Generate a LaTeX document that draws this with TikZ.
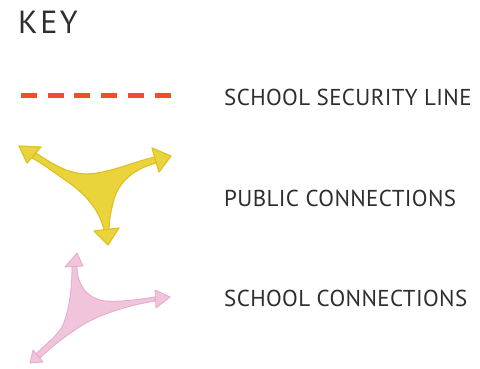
\documentclass[tikz,border=0pt]{standalone}
\usepackage{fontspec}
\setmainfont{PT Sans}
\definecolor{secred}{HTML}{F04E2B}
\definecolor{pubfill}{HTML}{EBD43B}
\definecolor{publine}{HTML}{DCC324}
\definecolor{schfill}{HTML}{F0C5DB}
\definecolor{schline}{HTML}{E6A8CB}
\definecolor{keytext}{HTML}{2E2E2E}
\begin{document}
\begin{tikzpicture}[x=1pt, y=-1pt,
  keylabel/.style={anchor=base west, inner sep=0pt, text=keytext,
    font=\fontsize{23}{23}\selectfont\addfontfeature{LetterSpace=1.6}},
  pubshape/.style={fill=pubfill, draw=publine, line width=1.2pt, line join=round},
  schshape/.style={fill=schfill, draw=schline, line width=0.8pt, line join=round}]
  \useasboundingbox (0,0) rectangle (480,369);
  \node[anchor=base west, inner sep=0pt, text=keytext,
    font=\fontsize{32}{32}\selectfont\addfontfeature{LetterSpace=8}] (key) at (18,34) {KEY};
  % school security line
  \draw[secred, line width=5pt, dash pattern=on 16pt off 10.7pt] (21,96) -- (171,96);
  \node[keylabel] (security) at (224,106) {SCHOOL SECURITY LINE};
  % public connections
  \path[pubshape] (36,153) .. controls (55,166) and (70,174) .. (87,174)
    .. controls (110,173) and (130,163) .. (155,157) -- (156,163)
    .. controls (130,170) and (117,185) .. (113,203)
    .. controls (110,215) and (109,222) .. (109,230) -- (104,230)
    .. controls (100,212) and (88,196) .. (68,182)
    .. controls (52,171) and (42,163) .. (32,158) -- cycle;
  \path[pubshape] (19,146) -- (41,147) -- (27,163) -- cycle;
  \path[pubshape] (171,156) -- (152,148) -- (159,172) -- cycle;
  \path[pubshape] (108,245) -- (94,231) -- (119,228) -- cycle;
  \node[keylabel] (public) at (224,206) {PUBLIC CONNECTIONS};
  % school connections
  \path[schshape] (77,266) .. controls (77,283) and (85,298) .. (105,301)
    .. controls (125,302) and (140,299) .. (155,297) -- (155,301)
    .. controls (130,305) and (95,315) .. (75,330)
    .. controls (60,340) and (48,350) .. (40,358) -- (36,354)
    .. controls (48,342) and (58,335) .. (63,325)
    .. controls (69,310) and (72,290) .. (72,266) -- cycle;
  \path[schshape] (77,253) -- (83,266) -- (65,267) -- cycle;
  \path[schshape] (170,297) -- (155,290) -- (156,308) -- cycle;
  \path[schshape] (30,363) -- (33,350) -- (43,362) -- cycle;
  \node[keylabel] (school) at (224,306) {SCHOOL CONNECTIONS};
\end{tikzpicture}
\end{document}
